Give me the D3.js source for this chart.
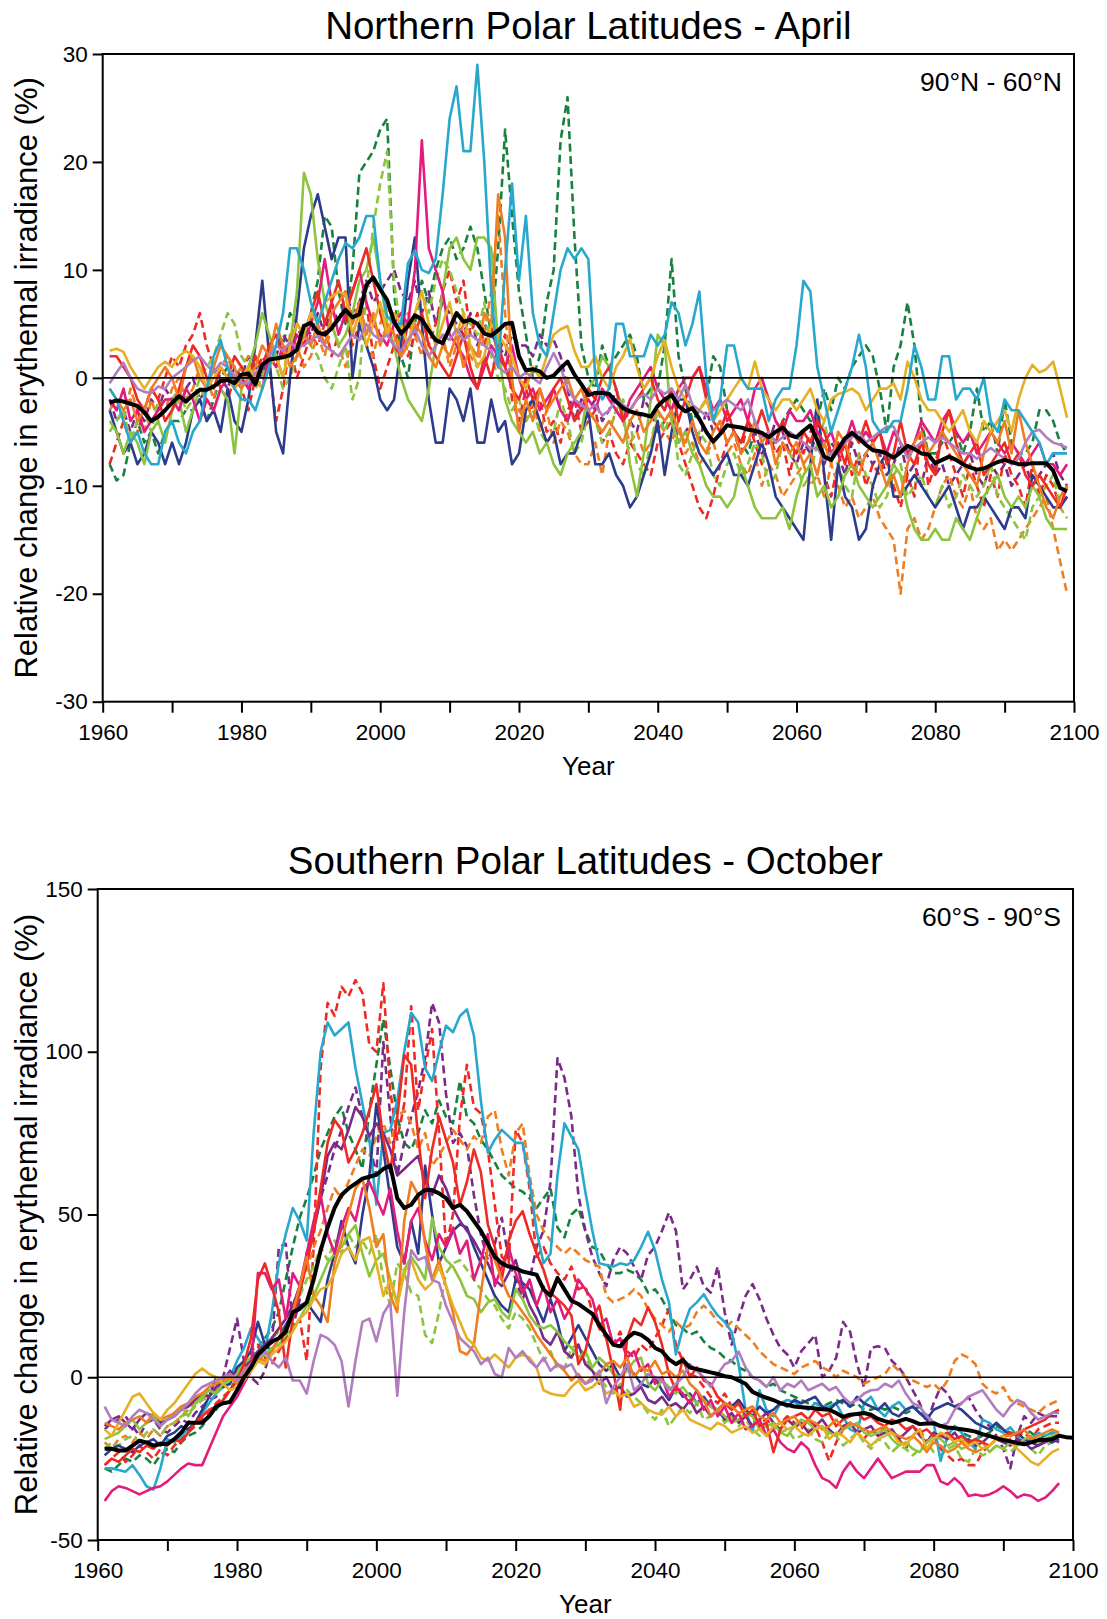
<!DOCTYPE html>
<html><head><meta charset="utf-8">
<script src="https://cdn.jsdelivr.net/npm/d3@7"></script>
<style>
body{margin:0;background:#fff;}
svg text{font-family:"Liberation Sans",Arial,Helvetica,sans-serif;fill:#000;}
</style></head><body>
<svg id="c" width="1107" height="1619"></svg>
<script>
// ---------------- DATA ----------------
const xTickYears = [1960,1970,1980,1990,2000,2010,2020,2030,2040,2050,2060,2070,2080,2090,2100];
const northYTicks = [-30,-20,-10,0,10,20,30];
const southYTicks = [-50,0,50,100,150];
const northStartYear = 1961;   // colored + mean: 1961..2099
const southStartYear = 1961;   // colored: 1961..2098, mean: 1961..2100

// Northern polar latitudes, April (%)
const nMean = [-2.3,-2.1,-2.2,-2.4,-2.6,-3.2,-4.0,-3.6,-3.0,-2.3,
-1.7,-2.2,-1.6,-1.1,-1.1,-0.8,-0.3,-0.2,-0.5,0.3,
0.4,-0.6,1.2,1.7,1.8,1.9,2.1,2.6,4.8,5.1,
4.2,4.0,4.6,5.5,6.3,5.6,5.9,8.6,9.3,8.2,
7.2,5.2,4.1,4.8,5.8,5.4,4.4,3.5,3.2,4.6,
6.0,5.2,5.4,5.0,4.1,3.9,4.4,5.0,5.1,2.0,
0.7,0.8,0.6,0.0,0.2,0.9,1.5,0.3,-0.6,-1.6,
-1.4,-1.4,-1.5,-2.2,-2.8,-3.1,-3.3,-3.4,-3.6,-2.6,
-2.0,-1.6,-2.6,-3.1,-2.8,-3.8,-5.0,-5.9,-5.2,-4.4,
-4.5,-4.6,-4.8,-4.9,-5.1,-5.5,-5.0,-4.6,-5.3,-5.5,
-4.9,-4.4,-5.8,-7.3,-7.6,-6.6,-5.6,-5.1,-5.6,-6.2,
-6.7,-6.8,-7.0,-7.4,-6.9,-6.3,-6.6,-7.0,-7.1,-7.9,
-7.6,-7.3,-7.6,-8.0,-8.3,-8.5,-8.4,-8.1,-7.8,-7.6,
-7.8,-8.0,-8.0,-7.9,-7.9,-7.9,-8.6,-10.2,-10.5];
const nDarkBlue = [-3,-5,-7,-6,-8,-7,-5,-6,-8,-6,
-8,-6,-3,-2,-4,-3,-5,-1,-4,-5,
-2,3,9,2,-5,-7,0,6,12,15,
17,14,11,13,13,0,5,3,1,-2,
-3,-2,3,9,13,5,-2,-6,-6,-1,
-2,-4,-1,-6,-6,-2,-5,-4,-8,-7,
-3,-2,-4,-6,-5,-8,-7,-7,-5,-3,
-8,-8,-7,-9,-10,-12,-11,-9,-7,-4,
-9,-5,-2,-2,-5,-7,-8,-9,-8,-7,
-9,-9,-10,-8,-6,-8,-11,-12,-13,-14,
-15,-8,-2,-9,-15,-8,-11,-12,-15,-14,
-10,-8,-7,-11,-11,-10,-9,-10,-11,-12,
-11,-10,-12,-14,-12,-12,-11,-12,-13,-14,
-12,-12,-13,-9,-10,-11,-12,-12,-11];
const nCyan = [-1,-2,-4,-6,-5,-7,-8,-8,-5,-4,
-6,-7,-5,-4,-1,2,3.5,1,-1,-2,
-2,-3,-1,1,3,6,12,12,10,7,
5,7,9,11,12.5,12,13,15,15,9,
5.7,5,5,10.6,11.8,10,9.7,11,17,24,
27,21,21,29,20,8,1,10,18,9,
15,6,3,2,6,10,12,11,12,11,
0,-2,-1,5,5,2,2,2,4,3,
4,7,6,3,5,8,0,-4,-2,3,
3,0,-1,-1,-1,-4,-2,-1,-1,3,
9,8,1,-2,-5,-3,-1,1,4,1,
-4,-5,-5,-4,-4,-1,3,1,-2,-2,
2,2,-2,-1,-1,-2,0,-4,-5,-2,
-3,-3,-4,-5,-6,-8,-7,-7,-7];
const nGreenDash = [-8,-9.5,-9,-6,-4,-6,-5,-7,-5,-4,
-4,-3,-3,-2,-4,-2,0,1,0,1,
-1,2,0,3,4,3,6,5,3,6,
9,15,14,8,5,10,19,20,21,23,
24,8,2,0,5,9,7,10,12,13,
11,12,14,12,8,4,12,23,15,8,
4,0,2,7,10,22,26,13,3,0,
-1,3,1,2,3,4,2,-2,-1,-1,
3,11,2,-1,-4,-3,-2,2,1,-3,
-5,-6,-7,-5,-5,-6,-6,-4,-3,-2,
-3,-4,-4,-1,-3,0,-1,1,2,3,
2,-1,-5,1,3,7,3,-4,-7,-7,
-6,-6,-5,-7,-5,-1,-5,-4,-7,-2,
-6,-7,-7,-6,-3,-3,-4,-6,-7];
const nLightGreen = [-4,-5,-7,-5,-6,-8,-5,-4,-6,-3,
-2,-5,-3,-1,-2,-3,-1,-2,-7,-1,
1,3,6,4,2,0,3,8,19,17,
11,7,5,3,4,6,9,10,13,9,
5,3,0,-2,-3,-4,-1,3,8,12,
13,11,10,13,13,12,3,-2,-4,-5,
-6,-5,-7,-6,-8,-9,-7,-6,-5,-1,
0,2,1,-1,-3,-8,-11,-7,-2,4,
3,-4,-6,-5,-7,-8,-10,-11,-11,-12,
-11,-8,-10,-12,-13,-13,-13,-12,-14,-11,
-9,-8,-11,-10,-12,-11,-9,-8,-10,-11,
-12,-11,-10,-8,-9,-12,-14,-15,-15,-14,
-15,-15,-13,-14,-15,-13,-11,-10,-9,-11,
-12,-11,-12,-10,-11,-13,-14,-14,-14];
const nLightGreenDash = [-5,-4,-3,-6,-4,-3,-5,-2,-3,-2,
-1,-3,-2,0,1,2,4,6,5,2,
1,-1,0,2,1,-1,0,2,4,3,
2,0,-1,1,3,-2,0,8,14,18,
21,9,4,3,6,8,6,9,11,10,
8,6,5,4,7,2,0,-1,-3,-2,
-4,-3,-5,-6,-5,-2,-4,-7,-6,-3,
-4,-6,-5,-3,-2,-4,-8,-9,-6,-3,
-5,-3,-8,-9,-7,-5,-6,-9,-10,-8,
-7,-9,-8,-6,-7,-10,-9,-6,-7,-8,
-10,-9,-6,-4,-7,-8,-10,-11,-7,-9,
-10,-12,-11,-9,-8,-11,-10,-9,-11,-12,
-10,-12,-11,-9,-10,-11,-10,-8,-11,-12,
-13,-14,-15,-12,-11,-10,-9,-12,-13];
const nMagenta = [-2,-3,-1,-4,-3,-5,-4,-3,-2,-2,
-3,-1,-2,-4,-2,-3,-1,0,-1,0,
-1,0,-1,2,1,3,2,4,3,5,
7,11,7,4,6,8,10,7,5,4,
3,5,6,5,10,22,12,10,8,4,
3,2,0,-1,1,3,2,1,3,0,
-2,-1,-3,-2,-1,-3,-4,-2,-3,-2,
-3,-1,-2,-3,-4,-2,-1,0,1,-1,
-2,-3,-1,0,0,1,-1,-3,-2,-4,
-3,-2,-4,-1,0,-2,-4,-5,-3,-4,
-4,-3,-5,-6,-5,-7,-6,-4,-6,-5,
-6,-5,-7,-5,-6,-7,-6,-4,-5,-6,
-4,-3,-5,-6,-5,-7,-6,-5,-6,-7,
-6,-7,-8,-7,-6,-8,-8,-9,-8];
const nRed = [2,2,1,0,-2,-3,-1,-2,-4,-3,
-1,1,3,2,0,-1,1,0,2,1,
0,2,1,3,4,2,3,5,4,6,
8,5,7,9,6,8,10,12,9,6,
4,3,2,5,4,6,3,2,1,0,
2,4,1,-1,2,0,3,1,-1,-2,
0,-2,-1,-3,-1,0,-2,-4,-3,-1,
-2,0,1,-1,-4,-3,-2,-1,0,-2,
-3,-1,-4,-2,0,1,-2,-4,-5,-3,
-5,-6,-4,-5,-3,-5,-6,-4,-6,-7,
-5,-6,-4,-5,-7,-6,-8,-5,-6,-4,
-6,-5,-8,-7,-4,-7,-8,-6,-8,-9,
-5,-3,-6,-8,-7,-6,-9,-8,-7,-6,
-8,-7,-9,-10,-9,-10,-11,-12,-10];
const nRedDash = [-8,-6,-4,-6,-5,-3,-1,-2,0,2,
1,3,4,6,3,1,-1,-2,0,-1,
-3,0,2,1,-4,-1,3,0,2,4,
3,5,2,4,6,3,5,7,2,-1,
1,3,5,2,4,6,3,5,8,10,
7,9,4,6,3,5,2,4,-2,-4,
-1,-3,-2,-5,-4,-6,-3,-2,-5,-4,
-3,-6,-5,-7,-8,-6,-7,-8,-9,-6,
-5,-4,-6,-8,-10,-12,-13,-11,-8,-6,
-5,-7,-4,-6,-8,-5,-7,-6,-9,-6,
-7,-5,-4,-9,-11,-8,-6,-9,-7,-10,
-8,-9,-7,-10,-12,-9,-11,-4,-10,-8,
-5,-7,-9,-11,-8,-10,-12,-9,-11,-7,
-9,-10,-12,-8,-11,-9,-10,-12,-11];
const nOrange = [-1,-2,-3,-2,-4,-3,-1,0,1,0,
-2,1,2,0,-1,1,3,2,1,-1,
0,1,3,2,5,3,1,2,4,3,
5,3,6,7,8,5,7,4,6,3,
5,4,2,3,5,4,2,1,3,2,
4,1,3,2,6,5,17,13,0,-5,
-2,-4,-1,-3,-2,-1,0,-2,-1,-3,
-4,-5,-4,-5,-6,-4,-3,-5,-4,-3,
-4,-3,-5,-6,-4,-6,-7,-5,-4,-6,
-5,-7,-6,-4,-6,-5,-8,-6,-7,-6,
-8,-7,-9,-6,-8,-5,-6,-8,-9,-7,
-6,-8,-10,-9,-11,-8,-6,-5,-7,-6,
-5,-6,-7,-8,-9,-10,-7,-5,-6,-4,
-7,-3,-6,-8,-10,-12,-13,-11,-10];
const nOrangeDash = [-3,-2,-4,-1,-3,-5,-2,-4,-3,-1,
0,-2,-1,1,0,-2,1,2,0,1,
2,0,1,3,2,0,4,3,1,2,
4,2,5,3,1,4,6,3,2,5,
7,4,3,6,4,2,5,3,4,1,
3,5,2,1,4,8,15,6,-1,-3,
-4,-2,-5,-3,-6,-4,-5,-7,-8,-8,
-6,-9,-5,-3,-4,-6,-5,-7,-6,-4,
-5,-6,-4,-7,-6,-8,-7,-6,-8,-7,
-6,-8,-9,-7,-10,-8,-9,-11,-10,-9,
-8,-10,-9,-11,-8,-10,-12,-11,-13,-12,
-11,-13,-14,-15,-20,-14,-13,-15,-14,-12,
-10,-9,-11,-12,-10,-13,-14,-13,-16,-15,
-16,-15,-14,-13,-12,-11,-14,-17,-20];
const nGold = [2.5,2.7,2.4,1,0,-1,0,1,1.5,1,
2,2.5,2,1,-1,0,1,0,-1,0,
1,0,-1,1,2,0,3,5,4,6,
5,7,7.5,8,7.7,4,6,3,5,7,
4,6,5,3,6,8,5,3,5,7,
4,6,3,1,2,5,4,3,2,0,
-1,1,0,2,4,4.5,4.8,2.5,1,1,
2,0,-1,1,2,3.6,1,-1,0,2,
3.5,1,-1,-2,-3,-3,-2,-4,-3,-2,
-1,0,-1,1.5,-1,-2,-3,-2,-2,-3,
-2,-1,-3,-4,-2,-1.5,-1.3,-1,-1.5,-3,
-2,-1,-1,-0.5,-2,1.5,0,-2,-3,-3,
-4,-5,-4,-3,-5,-6,-4,-5,-4,-3,
-5,-2,0,1.2,0.5,0.8,1.5,-1,-3.7];
const nPurpleDash = [-2,-4,-3,-5,-3,-4,-2,-3,-1,-2,
-3,-1,0,-2,-1,1,0,-1,1,0,
2,1,0,3,2,4,3,2,5,4,
6,4,7,5,8,6,7,9,7,8,
9,10,8,7,9,6,8,5,7,6,
5,4,6,3,5,4,3,2,4,3,
3,2,4,3,3.5,2,-1,-4,-2,-3,
-2,-4,-3,-1,-3,-4,-5,-2,-3,-5,
-4,-3,-6,-5,-4,-6,-3,-5,-4,-6,
-5,-7,-6,-5,-7,-6,-4,-5,-7,-8,
-6,-7,-5,-8,-6,-7,-9,-6,-8,-7,
-8,-7,-9,-8,-6,-9,-8,-10,-7,-9,
-8,-10,-9,-8,-7,-9,-10,-8,-9,-8,
-10,-9,-8,-10,-9,-8,-7,-9,-10];
const nLavender = [-0.5,0.5,1.4,0,-1,-1.3,-1.4,-0.8,-1,0,
0.5,1,1.6,2,1.2,0.5,1.4,1,0.2,-0.5,
-0.5,0.5,1,2,3,2.5,3.3,2.8,3,3.5,
3.9,3,2.5,2,3,4,3.5,5,4,3.5,
4,3,2.5,3.5,4.5,3,2,3,4,3.5,
4.5,3.5,4,3.5,3,2.5,1,0.5,1,0,
0.5,0,-0.5,1,2.3,1,-1,-2,-2.5,-3,
-2.5,-3.5,-3,-2,-2.5,-3,-2,-1.5,-2,-1,
-1.5,-1,-2,-0.6,-2.5,-3,-3.5,-3,-2.5,-2,
-2.5,-3,-2,-4,-5.5,-5,-6,-5.5,-5,-5.5,
-6,-6.5,-6.5,-7.6,-7,-6.5,-6,-5.5,-5,-6,
-5.5,-5,-4.5,-4.5,-6,-7.4,-6.5,-6,-5.5,-6,
-5.5,-6,-6.5,-7,-7,-7.5,-7,-6.5,-7,-7.5,
-8,-7.5,-6,-5,-4.8,-5.5,-6,-6.2,-6.5];

// Southern polar latitudes, October (%)
const sMean = [-22,-22,-22.5,-22.5,-21,-19.5,-20,-21,-20.5,-20.5,
-19,-17,-14,-14,-14,-12,-9,-8,-7.6,-4,
0,3,7,9,11,12,14,20,21,23,
30,39,46,52,56,58,59.5,61,61.6,62.2,
64,65,55,52,53,56,57.5,57.5,56.5,55,
52,53,51,48,45,41,37,35,34,33.5,
32.5,32,31.5,27,25,30.5,27,23.5,22.5,21,
19.5,16,13,10,9.5,12,13.7,13,11.5,9,
8,5.5,4,5.3,3,2.5,2,1.5,1,0.3,
0,-1,-2,-4.5,-5.5,-6.3,-7,-8,-8.5,-9,
-9.2,-9.4,-9.6,-9.8,-10,-11,-12.2,-11.5,-11.3,-11,
-11.5,-12.8,-13.5,-14.1,-13.5,-12.8,-13.5,-14.4,-14.2,-14.1,
-15,-15.4,-15.7,-16,-16.3,-16.7,-17.5,-18,-18.7,-19.3,
-19.7,-20.2,-20.6,-20,-19.3,-19.3,-19,-18,-18.4,-18.6];
const sDarkBlue = [-24,-22,-21,-22,-23,-21,-20,-19,-21,-18,
-17,-15,-16,-14,-10,-6,0,-3,-2,3,
5,8,17,10,8,12,16,20,22,23,
20,17,30,38,48,40,35,50,62,84,
70,55,40,35,48,38,65,50,35,40,
45,47,46,40,35,30,25,22,20,30,
29,27,22,17,24,17,8,12,16,12,
8,4,2,4,0,3,1,-2,-3,0,
-4,-7,-3,-6,-5,-8,-6,-9,-10,-8,
-9,-7,-10,-12,-9,-11,-10,-8,-9,-7,
-8,-7,-6,-9,-10,-8,-7,-9,-6,-8,
-9,-10,-8,-11,-12,-10,-9,-11,-13,-10,
-9,-8,-9,-10,-12,-14,-15,-16,-14,-16,
-18,-17,-19,-20,-21,-19,-20,-19];
const sCyan = [-28,-28,-28.5,-29,-27,-30,-33.5,-34.5,-28,-19,
-20,-18,-16,-14,-11,-8,-5,-3,0,5,
9,15,12,8,20,35,44,52,48,42,
75,100,109,105,107,109,95,84,73,53,
75,76,85,100,112,109,95,91,100,108,
106,111,113,105,85,69,73,76,74,72,
72,60,45,35,38,62,78,74,70,57,
45,35,34.5,34,35,34.5,36,40,44.7,39,
30,23,7,15,21,23,25.5,22,19,17,
14,4,-10,-17,-4,-10,-12,-8,-7,-7.6,
-9,-10,-8,-9,-9,-8,-12,-16,-17,-8,
-6,-10,-12,-9,-7.6,-10,-9,-11,-11.5,-14,
-25.7,-18,-15,-17,-20,-22,-13,-14,-16,-17,
-15.4,-18,-20.6,-19,-17,-18,-17,-17];
const sGreenDash = [-28,-29,-27,-25,-26,-24,-25,-27,-24,-22,
-23,-20,-18,-17,-15,-12,-10,-7,-4,0,
3,6,9,12,15,20,30,40,49,55,
62,70,75,80,83,75,70,64,82,96,
110,95,80,72,70,75,82,78,85,80,
78,91,80,78,73,70,66,62,60,58,
57,55,52,55,58,46,43,50,52,45,
40,39,35,32,32,33,32,30,26,27,
24,20,16,15,13,14,11,9,8,6,
5,3,2,0,-1,-3,-2,-4,-5,-6,
-7,-8,-8,-9,-8,-7,-8,-9,-8,-10,
-10,-9,-10,-9,-10,-11,-10,-9,-12,-14,
-15,-16,-15,-17,-18,-19,-18,-17,-15,-16,
-17,-18,-16,-17,-19,-18,-17,-18];
const sLightGreen = [-19,-18,-17,-15,-13,-16,-14,-12,-15,-13,
-11,-9,-12,-8,-6,-4,-5,-2,-1,1,
3,2,5,7,9,10,13,15,18,22,
25,30,35,38,40,44,46.7,38,31,36,
38,30,23,33,37,34,30,49,40,36,
34,30,25,24,20,23,24,20,18,27,
24,19,16,15,16,14,11,9,6,8,
3,6,4,1,0,2,5,6,-2,-4,
-1,-3,-5,-3,-6,-8,-7,-9,-10,-12,
-14,-13,-11,-12,-16,-15,-14,-17,-18,-15,
-13,-14,-16,-15,-17,-18,-16,-15,-14,-17,
-18,-17,-16,-19,-21,-20,-22,-23,-20,-18,
-19,-21,-20,-22,-21,-19,-20,-23,-21,-22,
-20,-21,-19,-18,-20,-19,-18,-17];
const sLightGreenDash = [-22,-20,-21,-19,-18,-20,-17,-16,-18,-15,
-14,-12,-11,-9,-7,-6,-4,-3,-1,2,
4,6,8,10,12,14,16,20,25,30,
34,40,36,42,38,44,40,42,38,44,
30,22,35,32,26,25,13,10.5,20,32,
35,36,33,30,27,24,22,18,15,20,
18,15,10,5,8,3,2.7,9,10,6,
2,0,-3,-5,-2,-4,-6,-8,-11,-13,
-10,-15,-12,-9,-11,-8,-13,-12,-10,-14,
-12,-15,-13,-16,-18,-14,-15,-17,-16,-19,
-18,-16,-19,-20,-17,-18,-21,-19,-17,-20,
-22,-19,-20,-23,-21,-22,-24,-22,-20,-23,
-24,-22,-21,-25,-26,-22,-24,-23,-21,-22,
-23,-21,-20,-22,-24,-21,-20,-19];
const sMagenta = [-38,-35,-33.5,-34,-35,-36,-35,-34,-33.5,-32,
-30,-28,-26.5,-27,-27,-22,-17,-12,-9,-6,
-2,2,32,32,27,30,18,32,28,38,
48,56,44,38,46,52,48,58,60,55,
50,58,45,35,48,52,42,36,44,40,
46,38,42,30,36,44,28,34,40,32,
26,30,22,28,20,24,18,22,30,27,
24,16,18,10,12,6,8,2,4,-2,
0,-6,-3,-5,-8,-4,-10,-7,-12,-9,
-14,-11,-16,-15,-13,-18,-16,-20,-22,-23,
-20,-22,-27,-31,-32,-34,-29,-26,-29,-31,
-28,-25,-28,-31,-30,-29,-29,-29,-27,-27,
-32,-33,-31,-33,-36.5,-36,-36.5,-36,-35,-33.5,
-35,-37,-36,-36.5,-38,-37,-35,-32.5];
const sRed = [-27,-25,-26,-24,-22,-23,-21,-22,-20,-21,
-19,-20,-17,-14,-12,-10,-9,-7,-4,-1,
4,12,30,35,28,20,3,18,26,35,
45,58,72,79,76,66,70,75,82,90,
73,63,80,99,96,74,55,70,80,73,
66,53,60,70,63,47,40,30,42,48,
51,44,38,33,26,24,22,19,4,8,
18,22,12,2,-10,12,18,16,21.5,17,
10,1,-4,6,0,3,-1,-2,-6,-8,
-10,-8,-12,-10,-15,-14,-23,-16,-13,-12,
-11,-13,-10,-12,-11,-15,-13,-12,-11,-13,
-12,-14,-15,-13,-14,-16,-15,-17,-16,-18,
-18,-17,-19,-18,-20,-19,-20,-21,-19,-18,
-17,-18,-16,-15,-14,-13,-11,-10];
const sRedDash = [-27,-25,-23,-26,-24,-21,-23,-25,-22,-24,
-21,-19,-17,-15,-13,-11,-8,-6,-4,-1,
2,8,10,6,4,8,12,15,18,5,
40,95,115,111,120,117,122,118,102,100,
121,88,73,84,114,82,95,107,75,40,
50,80,96,83,81,70,53,37,35,76,
72,58,37,40,35,32,30,34,27,28,
20,15,12,10,14,8,6,10,8,12,
16,21,10,5,1,0,-3,-6,-8,-5,
-9,-7,-10,-12,-14,-13,-15,-14,-12,-14,
-16,-13,-15,-20,-25.7,-20,-16,-14,-17,-19,
-16,-18,-15,-17,-19,-22,-18,-16,-20,-18,
-22,-24,-26,-25,-27,-27,-23,-21,-19,-20,
-19,-18,-17,-19,-16,-15,-14,-14];
const sOrange = [-14,-15,-16,-14,-13,-12,-14,-11,-13,-12,
-11,-9,-8,-6,-5,-3,-2,-1,0,-2,
2,4,6,5,8,12,14,20,28,37,
25,22,17,35,42,50,58,61,52,40,
44,25,20,48,60,56,41,30,36,28,
20,8,7,10,26,40,36,30,25,23,
20,17,13,10,7,4,2,-1,1,-2,
0,1,4,5,3,6,0,3,2,5,
1,2,0,2,-2,-4,-7,-12,-10,-8,
-9,-11,-10,-9,-12,-13,-11,-14,-13,-12,
-15,-13,-14,-16,-15,-13,-16,-14,-15,-16,
-17,-16,-15,-17,-18,-19,-18,-20,-23,-20,
-21,-23,-22,-20,-22,-23,-22,-21,-19,-18,
-18,-17,-16,-19,-18,-17,-16,-17];
const sOrangeDash = [-20,-22,-19,-18,-20,-17,-19,-16,-18,-15,
-14,-12,-10,-8,-7,-5,-4,-2,0,2,
4,6,5,8,12,15,18,22,28,33,
40,45,52,58,55,60,65,70,68,74,
78,72,80,82,78,70,75,65,68,72,
76,73,70,74,72,80,82,70,62,75,
78,62,50,45,42,40,38,40,38,36,
35,34,25,23,24,25,27,25,21,18,
16,14,17,15,16,20,22,20,17,15,
17,15,13,11,8,6,4,3,2,1,
3,4,5,3,2,0,2,1,0,-2,
-1,0,1,4,2,0,-1,-2,-3,-2,
-4,-1,5,7,6,4,-2,-4,-5,-3,
-7,-8,-9,-10,-11,-9,-8,-7];
const sGold = [-16,-18,-14,-10,-6,-5,-8,-11,-13,-10,
-8,-5,-2,1,2.7,1,0,-2,-4,-3,
-1,2,5,4,7,9,11,14,18,20,
24,27,28,32,38,40,36,42,43,35,
25,30,22,32,36,30,27,29,34,28,
22,17,12,10,6,5,7,5,3,6,
7,6,3,-4,-5,-5.5,-5.7,-3,-1,-4,
-3,-1,-5,-4,-6,-5,-9,-8,-10,-11,
-11.5,-9,-12,-10,-13,-14,-15,-16,-14,-15,
-17,-16,-15,-17,-16,-18,-15,-14,-16,-15,
-17,-18,-16,-15,-19,-17,-18,-20,-17,-19,
-21,-19,-18,-17,-20,-21,-18,-16,-22,-19,
-17,-18,-20,-19,-21,-20,-22,-21,-19,-18,
-20,-22,-24,-26,-27,-25,-23,-22];
const sPurpleDash = [-16,-14,-13,-12,-15,-18,-14,-13,-16,-17,
-15,-13,-14,-11,-9,-7,-6,0,9,18,
5,0,-2,2,10,40,41,15,24,38,
47,55,62,70,76,83,89,80,72,62,
103,80,62,72,80,88,98,115,109,87,
72,75,71,56,44,36,41,49,36,30,
24,30,40,45,60,98,92,80,56,45,
37,32,28,36,40,38,34,30,37.6,40,
45,50.6,45,27,30,34,28,26,34,20,
10,18,25,28.6,24,18,13,9,7,3,
8,10.5,13,0,2,6,17,14,4,-3,
9,9.5,9,5,3,0,-4,-8,-14,-8,
-3,-5,-9,-8,-6,-10,-13,-15,-18,-22,
-28,-18,-12,-14,-11,-12,-12,-12];
const sLavender = [-9,-13,-14,-15,-12,-10,-11,-13,-15,-13,
-12,-10,-8,-5,-3,-2,-1,0,1,-1,
2,4,6,8,5,3,6,-1,-1,-5,
5,13,12,10,5,-9,5,17,18,11,
19.5,23,-5.7,20,39,36,37,30,29,22,
17,12,10,8,4,6,1,0,9,6,
8,5,3,6,2,4,3,4,0,-2,
-1,2,-8,-3,0,4,-4,-2,1,0,
-1,-4,-2,0,4,2,0,-3,1,4,
5,7.9,3,0,-1,-3,0,-4,-2,-3,
-1,-4,-3,-2,-4,-3,-6,-8,-7,-5,
-4,-3.8,-2,-3,-1,-5,-8,-9,-12,-14,
-15,-14,-10,-8,-6,-5,-4,-7,-10,-12,
-9,-7,-8,-11,-13,-12,-11,-11];
const sPurple = [-15,-13,-12,-14,-16,-13,-11,-12,-14,-13,
-12,-10,-9,-7,-5,-6,-3,-1,2,0,
3,5,8,10,12,15,18,22,28,35,
45,55,68,72,70,76,83,80,74,78,
75,70,62,64,66,68,60,56,62,58,
52,48,45,42,38,35,30,28,32,36,
28,22,18,12,10,14,8,6,10,4,
2,-2,0,-4,-3,-6,-5,-3,-7,-8,
-6,-9,-8,-10,-7,-11,-9,-12,-10,-13,
-11,-14,-12,-15,-13,-11,-14,-16,-13,-15,
-14,-17,-15,-13,-16,-18,-15,-14,-17,-16,
-15,-18,-17,-16,-19,-17,-15,-18,-20,-17,
-18,-19,-17,-20,-19,-21,-20,-18,-19,-20,
-21,-19,-20,-22,-21,-20,-19,-20];

// colours
const C = {
  darkBlue:'#2c3b8c', cyan:'#27a8cc', green:'#17813f', lightGreen:'#8cc43f',
  magenta:'#e31b7d', red:'#ee2a24', orange:'#ef7d22', gold:'#e6b024',
  purple:'#7b2a88', lavender:'#b27dbf'
};

// ---------------- DRAW ----------------
const svg = d3.select('#c');

function drawPanel(p) {
  const x = d3.scaleLinear().domain([1960, 2100]).range([p.left, p.right]);
  const y = d3.scaleLinear().domain(p.yDomain).range([p.bottom, p.top]);
  const clipId = 'clip' + p.id;
  svg.append('clipPath').attr('id', clipId).append('rect')
    .attr('x', p.left).attr('y', p.top).attr('width', p.right - p.left).attr('height', p.bottom - p.top);
  const g = svg.append('g');
  const plot = g.append('g').attr('clip-path', `url(#${clipId})`);
  const line = d3.line().x(d => x(d[0])).y(d => y(d[1]));

  p.series.forEach(s => {
    const pts = s.values.map((v, i) => [p.start + i, v]);
    plot.append('path').attr('d', line(pts)).attr('fill', 'none')
      .attr('stroke', s.color).attr('stroke-width', 2.6)
      .attr('stroke-linejoin', 'round')
      .attr('stroke-dasharray', s.dash ? '8,4.5' : null);
  });
  plot.append('line').attr('x1', p.left).attr('x2', p.right)
    .attr('y1', y(0)).attr('y2', y(0)).attr('stroke', '#000').attr('stroke-width', 1.7);
  const mpts = p.mean.map((v, i) => [p.start + i, v]);
  plot.append('path').attr('d', line(mpts)).attr('fill', 'none')
    .attr('stroke', '#000').attr('stroke-width', 4).attr('stroke-linejoin', 'round');

  // frame
  g.append('rect').attr('x', p.left).attr('y', p.top)
    .attr('width', p.right - p.left).attr('height', p.bottom - p.top)
    .attr('fill', 'none').attr('stroke', '#000').attr('stroke-width', 2);

  const xAxis = d3.axisBottom(x).tickValues(xTickYears).tickSize(11).tickPadding(11)
    .tickFormat(d => d % 20 === 0 ? String(d) : '');
  g.append('g').attr('transform', `translate(0,${p.bottom})`).call(xAxis)
    .call(a => { a.select('.domain').remove();
      a.selectAll('line').attr('stroke', '#000').attr('stroke-width', 2);
      a.selectAll('text').attr('font-size', 22.5).attr('fill', '#000'); });
  const yAxis = d3.axisLeft(y).tickValues(p.yTicks).tickSize(10).tickPadding(5)
    .tickFormat(d => String(d));
  g.append('g').attr('transform', `translate(${p.left},0)`).call(yAxis)
    .call(a => { a.select('.domain').remove();
      a.selectAll('line').attr('stroke', '#000').attr('stroke-width', 2);
      a.selectAll('text').attr('font-size', 22.5).attr('fill', '#000'); });

  // titles
  g.append('text').attr('x', (p.left + p.right) / 2).attr('y', p.top - 15)
    .attr('text-anchor', 'middle').attr('font-size', 38.5).text(p.title);
  g.append('text').attr('x', p.right - 12).attr('y', p.top + 37)
    .attr('text-anchor', 'end').attr('font-size', 26.5).text(p.region);
  g.append('text').attr('x', (p.left + p.right) / 2).attr('y', p.bottom + 73)
    .attr('text-anchor', 'middle').attr('font-size', 26).text('Year');
  g.append('text').attr('transform', `translate(36.5,${(p.top + p.bottom) / 2}) rotate(-90)`)
    .attr('text-anchor', 'middle').attr('font-size', 31).text('Relative change in erythemal irradiance (%)');
}

const northSeries = [
  {values:nGreenDash, color:C.green, dash:true},
  {values:nPurpleDash, color:C.purple, dash:true},
  {values:nRedDash, color:C.red, dash:true},
  {values:nOrangeDash, color:C.orange, dash:true},
  {values:nLightGreenDash, color:C.lightGreen, dash:true},
  {values:nDarkBlue, color:C.darkBlue},
  {values:nLightGreen, color:C.lightGreen},
  {values:nMagenta, color:C.magenta},
  {values:nRed, color:C.red},
  {values:nOrange, color:C.orange},
  {values:nGold, color:C.gold},
  {values:nLavender, color:C.lavender},
  {values:nCyan, color:C.cyan}
];
const southSeries = [
  {values:sGreenDash, color:C.green, dash:true},
  {values:sPurpleDash, color:C.purple, dash:true},
  {values:sRedDash, color:C.red, dash:true},
  {values:sOrangeDash, color:C.orange, dash:true},
  {values:sLightGreenDash, color:C.lightGreen, dash:true},
  {values:sCyan, color:C.cyan},
  {values:sDarkBlue, color:C.darkBlue},
  {values:sPurple, color:C.purple},
  {values:sLightGreen, color:C.lightGreen},
  {values:sMagenta, color:C.magenta},
  {values:sRed, color:C.red},
  {values:sOrange, color:C.orange},
  {values:sGold, color:C.gold},
  {values:sLavender, color:C.lavender}
];

drawPanel({id:'n', left:102.7, right:1074, top:54, bottom:701.7, yDomain:[-30,30], yTicks:northYTicks,
  start:northStartYear, series:northSeries, mean:nMean,
  title:'Northern Polar Latitudes - April', region:'90°N - 60°N'});
drawPanel({id:'s', left:97.7, right:1073, top:889, bottom:1540, yDomain:[-50,150], yTicks:southYTicks,
  start:southStartYear, series:southSeries, mean:sMean,
  title:'Southern Polar Latitudes - October', region:'60°S - 90°S'});
</script>
</body></html>
